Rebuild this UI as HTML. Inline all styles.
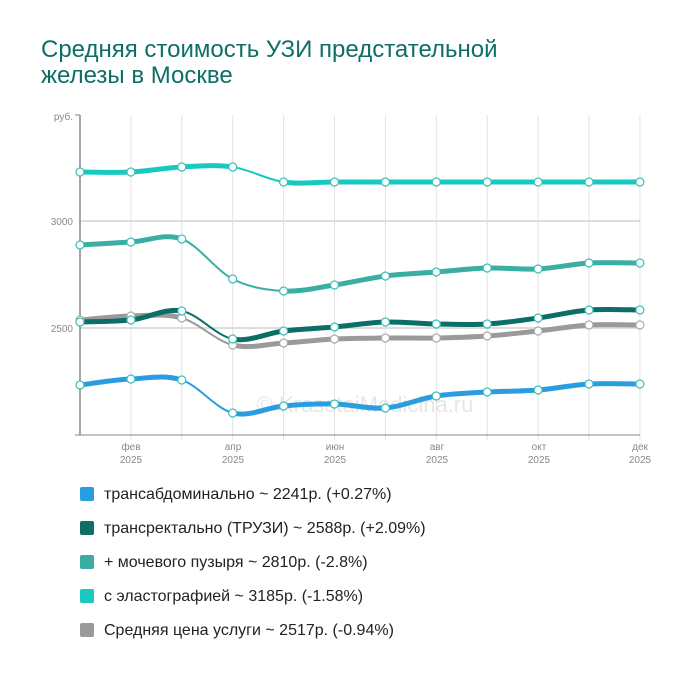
<!DOCTYPE html>
<html><head><meta charset="utf-8"><style>
body{margin:0;background:#fff;width:700px;height:680px;overflow:hidden;font-family:"Liberation Sans",sans-serif}
.t{position:absolute;left:41px;top:37px;font-size:24px;line-height:26px;color:#0f6e66}
.lg{position:absolute;left:80px;font-size:16px;color:#222;line-height:18px}
.lg i{display:inline-block;width:14px;height:14px;border-radius:2px;vertical-align:-2px;margin-right:10px}
</style></head><body>
<div class="t">Средняя стоимость УЗИ предстательной<br>железы в Москве</div>
<svg id="s" width="700" height="470" style="position:absolute;left:0;top:0" font-family="Liberation Sans, sans-serif">
<g stroke="#e2e2e2" stroke-width="1" id="grid"></g>
<line x1="80" y1="221" x2="640" y2="221" stroke="#ddd" stroke-width="2"/>
<line x1="80" y1="328" x2="640" y2="328" stroke="#ddd" stroke-width="2"/>
<line x1="80" y1="115" x2="80" y2="435" stroke="#888" stroke-width="1.5"/>
<line x1="75" y1="115" x2="80" y2="115" stroke="#888"/>
<line x1="75" y1="435" x2="640" y2="435" stroke="#888"/>
<text x="73" y="120" font-size="10" fill="#888" text-anchor="end">руб.</text>
<text x="73" y="225" font-size="10" fill="#888" text-anchor="end">3000</text>
<text x="73" y="332" font-size="10" fill="#888" text-anchor="end">2500</text>
<text x="365" y="412" font-size="22" fill="#d5d5d5" fill-opacity="0.6" text-anchor="middle">© KrasotaiMedicina.ru</text>
<g font-size="10" fill="#888" text-anchor="middle">
<text x="131" y="450">фев</text><text x="131" y="463">2025</text>
<text x="233" y="450">апр</text><text x="233" y="463">2025</text>
<text x="335" y="450">июн</text><text x="335" y="463">2025</text>
<text x="437" y="450">авг</text><text x="437" y="463">2025</text>
<text x="539" y="450">окт</text><text x="539" y="463">2025</text>
<text x="640" y="450">дек</text><text x="640" y="463">2025</text>
</g>
<g id="lines"></g>
</svg>
<div class="lg" style="top:486px"><i style="background:#2a9de0"></i>трансабдоминально ~ 2241р. (+0.27%)</div>
<div class="lg" style="top:520px"><i style="background:#0b6e67"></i>трансректально (ТРУЗИ) ~ 2588р. (+2.09%)</div>
<div class="lg" style="top:554px"><i style="background:#3aaea3"></i>+ мочевого пузыря ~ 2810р. (-2.8%)</div>
<div class="lg" style="top:588px"><i style="background:#17c9c0"></i>с эластографией ~ 3185р. (-1.58%)</div>
<div class="lg" style="top:622px"><i style="background:#9a9a9a"></i>Средняя цена услуги ~ 2517р. (-0.94%)</div>
<script>
var NS="http://www.w3.org/2000/svg",X=[];for(var i=0;i<12;i++)X.push(80+i*50.9);
var g=document.getElementById("grid");
X.forEach(function(x,i){if(i>0){var l=document.createElementNS(NS,"line");l.setAttribute("x1",x);l.setAttribute("x2",x);l.setAttribute("y1",115);l.setAttribute("y2",440);g.appendChild(l);}});
var S=[
["#9a9a9a",[320,316,318,345,343,339,338,338,336,331,325,325]],
["#0b6e67",[322,320,311,339,331,327,322,324,324,318,310,310]],
["#3aaea3",[245,242,239,279,291,285,276,272,268,269,263,263]],
["#17c9c0",[172,172,167,167,182,182,182,182,182,182,182,182]],
["#2a9de0",[385,379,380,413,406,404,408,396,392,390,384,384]]];
var L=document.getElementById("lines");
S.forEach(function(s){var c=s[0],Y=s[1];
for(var i=0;i<11;i++){var p0=[X[Math.max(i-1,0)],Y[Math.max(i-1,0)]],p1=[X[i],Y[i]],p2=[X[i+1],Y[i+1]],p3=[X[Math.min(i+2,11)],Y[Math.min(i+2,11)]];
var c1=[p1[0]+(p2[0]-p0[0])/6,p1[1]+(p2[1]-p0[1])/6],c2=[p2[0]-(p3[0]-p1[0])/6,p2[1]-(p3[1]-p1[1])/6];
var p=document.createElementNS(NS,"path");p.setAttribute("d","M"+p1+"C"+c1+" "+c2+" "+p2);
p.setAttribute("fill","none");p.setAttribute("stroke",c);p.setAttribute("stroke-width",Y[i+1]>Y[i]+4?2:5);p.setAttribute("stroke-linecap","round");L.appendChild(p);}
});
S.forEach(function(s){s[1].forEach(function(y,i){var e=document.createElementNS(NS,"circle");e.setAttribute("cx",X[i]);e.setAttribute("cy",y);e.setAttribute("r",4);e.setAttribute("fill","#fff");e.setAttribute("stroke",s[0]=="#9a9a9a"?"#aaa":"#3bbfb6");e.setAttribute("stroke-width",1.2);L.appendChild(e);});});
</script>
</body></html>
